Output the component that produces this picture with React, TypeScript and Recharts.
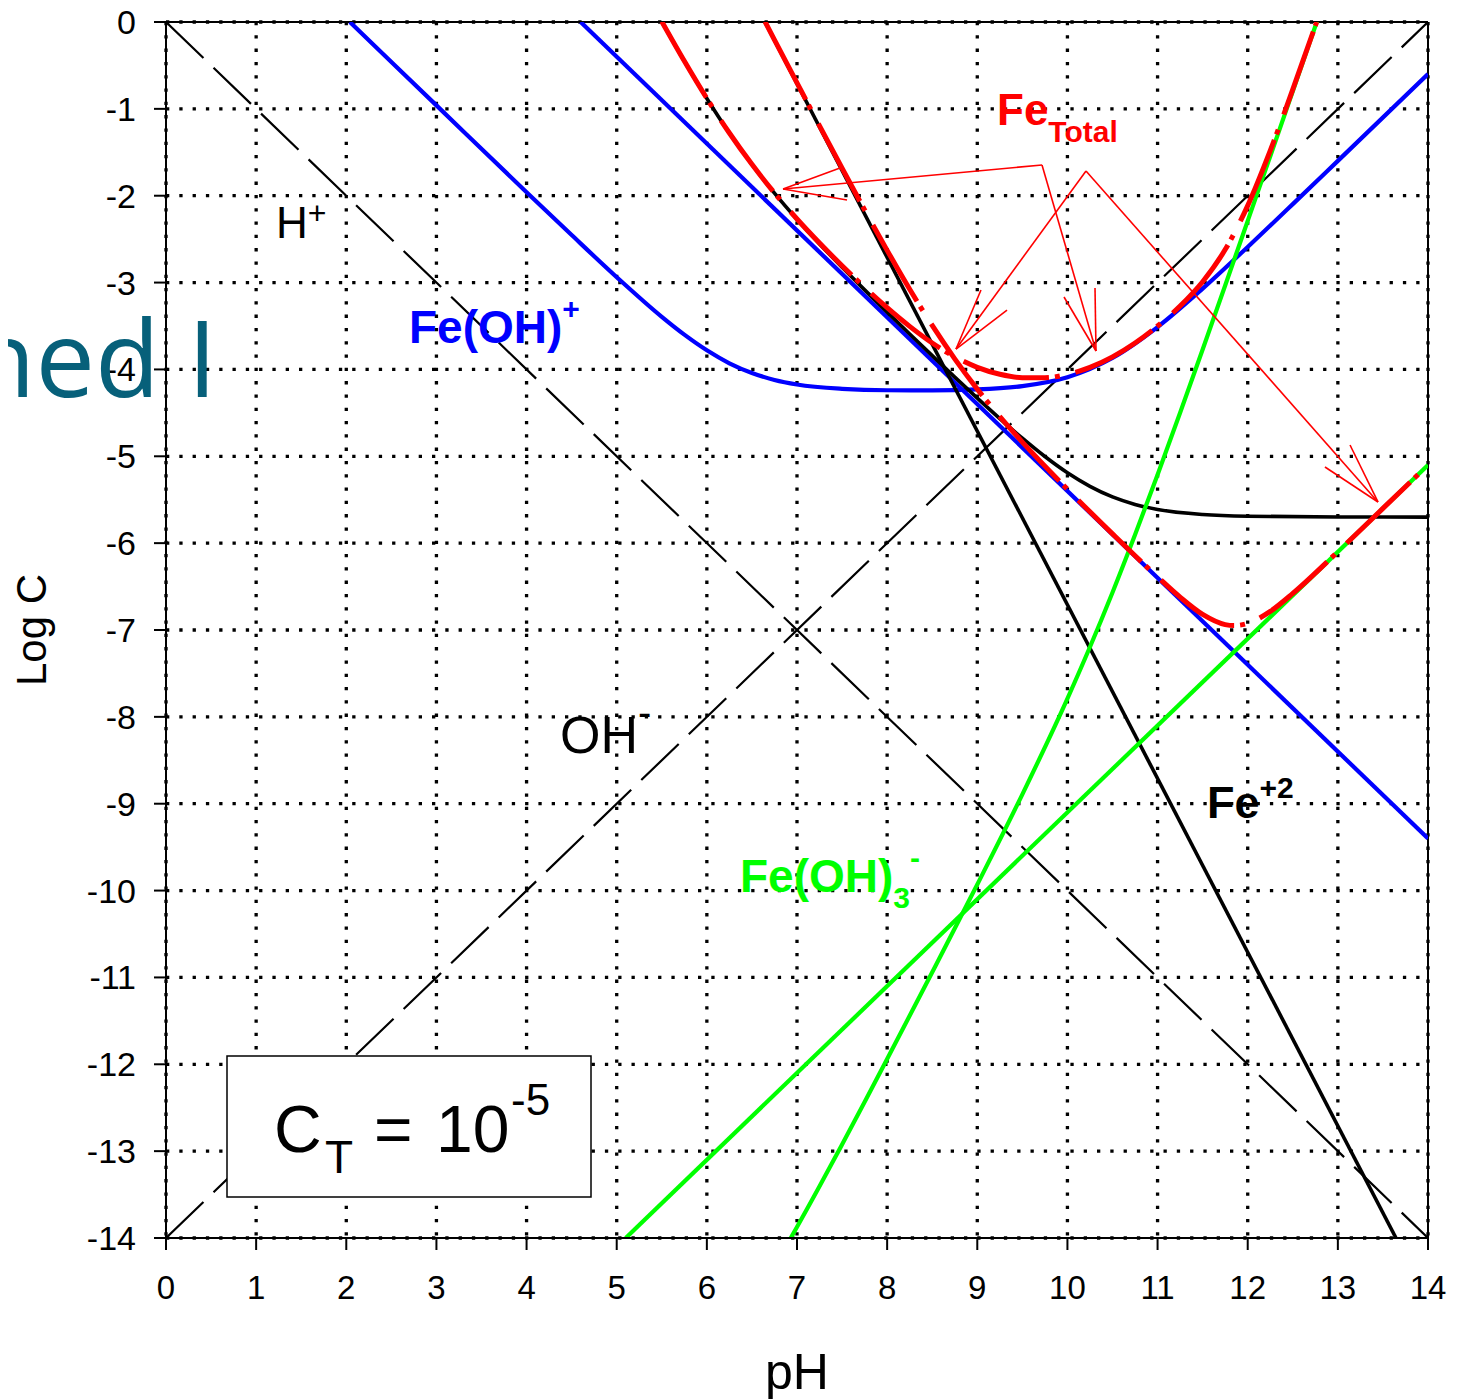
import React from 'react';
import { LineChart, Line, XAxis, YAxis, CartesianGrid, ReferenceLine } from 'recharts';

// Axis ticks
const pHTicks = [0, 1, 2, 3, 4, 5, 6, 7, 8, 9, 10, 11, 12, 13, 14];
const logCTicks = [0, -1, -2, -3, -4, -5, -6, -7, -8, -9, -10, -11, -12, -13, -14];

// H+ and OH- (dashed)
const hPH = [0, 14];
const hLogC = [0, -14];
const ohPH = [0, 14];
const ohLogC = [-14, 0];

// Solid-phase controlled species (straight lines)
const fe2SolidPH = [6.645, 13.645];
const fe2SolidLogC = [0, -14];
const feOHSolidPH = [4.6, 14];
const feOHSolidLogC = [0, -9.4];
const feOH3SolidPH = [5.1, 14];
const feOH3SolidLogC = [-14, -5.1];

// Fe(OH)+ curve (blue, with plateau)
const feOHCurvePH = [2.04, 3, 4, 4.5, 5, 5.5, 5.75, 6, 6.25, 6.5, 6.75, 7, 7.5, 8, 8.5, 9, 9.5, 10, 10.5, 11, 11.5, 12, 12.5, 13, 14];
const feOHCurveLogC = [0, -0.96, -1.96, -2.453, -2.938, -3.395, -3.6, -3.78, -3.929, -4.041, -4.121, -4.173, -4.223, -4.24, -4.241, -4.23, -4.192, -4.09, -3.868, -3.512, -3.07, -2.59, -2.097, -1.599, -0.6];

// Fe+2 curve (black, flattening)
const fe2CurvePH = [5.5, 5.75, 6, 6.25, 6.5, 6.75, 7, 7.25, 7.5, 7.75, 8, 8.25, 8.5, 8.75, 9, 9.25, 9.5, 9.75, 10, 10.25, 10.5, 10.75, 11, 11.5, 12, 13, 14];
const fe2CurveLogC = [0.005, -0.45, -0.88, -1.279, -1.641, -1.971, -2.273, -2.555, -2.823, -3.084, -3.34, -3.592, -3.841, -4.088, -4.33, -4.566, -4.792, -5.003, -5.19, -5.346, -5.468, -5.554, -5.612, -5.67, -5.69, -5.699, -5.7];

// Fe(OH)3- curve (green, steep)
const feOH3CurvePH = [6.93, 7, 7.25, 7.5, 7.75, 8, 8.5, 9, 9.5, 10, 10.25, 10.5, 10.75, 11, 11.25, 11.5, 11.75, 12, 12.25, 12.5, 12.77];
const feOH3CurveLogC = [-14, -13.873, -13.405, -12.923, -12.434, -11.94, -10.941, -9.93, -8.892, -7.79, -7.196, -6.568, -5.904, -5.212, -4.499, -3.77, -3.033, -2.29, -1.545, -0.797, 0.012];

// Fe total curves (red dashed)
const feTotalAPH = [5.5, 5.75, 6, 6.25, 6.5, 6.75, 7, 7.25, 7.5, 7.75, 8, 8.25, 8.5, 8.75, 9, 9.25, 9.5, 9.75, 10, 10.25, 10.5, 10.75, 11, 11.25, 11.5, 11.75, 12, 12.25, 12.5, 12.7, 12.765];
const feTotalALogC = [0.005, -0.45, -0.88, -1.278, -1.639, -1.968, -2.268, -2.545, -2.806, -3.055, -3.289, -3.504, -3.696, -3.855, -3.976, -4.056, -4.095, -4.095, -4.057, -3.977, -3.856, -3.696, -3.5, -3.27, -2.99, -2.62, -2.114, -1.481, -0.776, -0.19, 0];
const feTotalBPH = [6.645, 6.75, 7, 7.25, 7.5, 7.75, 8, 8.25, 8.5, 8.75, 9, 9.25, 9.5, 10, 10.5, 11, 11.25, 11.5, 11.75, 11.85, 12, 12.25, 12.5, 13, 13.5, 14];
const feTotalBLogC = [0.004, -0.205, -0.701, -1.195, -1.683, -2.163, -2.629, -3.076, -3.494, -3.878, -4.227, -4.544, -4.837, -5.379, -5.893, -6.389, -6.622, -6.821, -6.938, -6.949, -6.924, -6.786, -6.579, -6.098, -5.6, -5.1];

// Annotation arrows (pH, logC pairs)
const arrowSegments: [number, number, number, number][] = [
  [9.718, -1.646, 6.845, -1.923],
  [6.845, -1.923, 7.477, -1.681],
  [6.845, -1.923, 7.555, -2.049],
  [9.718, -1.646, 10.317, -3.788],
  [10.317, -3.788, 9.962, -3.166],
  [10.317, -3.788, 10.306, -3.062],
  [10.206, -1.715, 8.764, -3.765],
  [8.764, -3.765, 9.041, -3.086],
  [8.764, -3.765, 9.33, -3.316],
  [10.206, -1.715, 13.445, -5.526],
  [13.445, -5.526, 12.857, -5.123],
  [13.445, -5.526, 13.135, -4.87],
];

const pts = (xs: number[], ys: number[]) => xs.map((x, i) => ({ x, y: ys[i] }));

const FONT = "'Liberation Sans', Arial, Helvetica, sans-serif";
const RED = '#ff0000';
const BLUE = '#0000ff';
const GREEN = '#00ff00';

export default function App() {
  const lineCommon = { dot: false, activeDot: false, isAnimationActive: false, dataKey: 'y' } as any;
  return (
    <div style={{ position: 'relative', width: 1450, height: 1392 }}>
      <LineChart width={1450} height={1392} margin={{ top: 14, right: 30, bottom: 0, left: 0 }}>
        <CartesianGrid stroke="#000" strokeWidth={3.3} strokeDasharray="3.3 10" />
        <XAxis
          type="number"
          dataKey="x"
          domain={[0, 14]}
          ticks={pHTicks}
          interval={0}
          allowDataOverflow
          height={162}
          tickSize={12}
          tickMargin={26}
          axisLine={{ stroke: '#000', strokeWidth: 2 }}
          tickLine={{ stroke: '#000', strokeWidth: 2 }}
          tick={{ fill: '#000', fontSize: 33, fontFamily: FONT }}
        />
        <YAxis
          type="number"
          domain={[-14, 0]}
          ticks={logCTicks}
          interval={0}
          allowDataOverflow
          width={158}
          tickSize={12}
          tickMargin={18}
          axisLine={{ stroke: '#000', strokeWidth: 2 }}
          tickLine={{ stroke: '#000', strokeWidth: 2 }}
          tick={{ fill: '#000', fontSize: 34, fontFamily: FONT }}
        />
        <ReferenceLine y={0} stroke="#000" strokeWidth={2} />
        <ReferenceLine x={14} stroke="#000" strokeWidth={2} />

        <Line {...lineCommon} data={pts(hPH, hLogC)} type="linear" stroke="#000" strokeWidth={2.2} strokeDasharray="52 14" />
        <Line {...lineCommon} data={pts(ohPH, ohLogC)} type="linear" stroke="#000" strokeWidth={2.2} strokeDasharray="52 14" />

        <Line {...lineCommon} data={pts(feOHCurvePH, feOHCurveLogC)} type="monotone" stroke={BLUE} strokeWidth={4.2} />
        <Line {...lineCommon} data={pts(feOHSolidPH, feOHSolidLogC)} type="linear" stroke={BLUE} strokeWidth={4.2} />
        <Line {...lineCommon} data={pts(fe2CurvePH, fe2CurveLogC)} type="monotone" stroke="#000" strokeWidth={3.6} />
        <Line {...lineCommon} data={pts(fe2SolidPH, fe2SolidLogC)} type="linear" stroke="#000" strokeWidth={3.6} />
        <Line {...lineCommon} data={pts(feOH3CurvePH, feOH3CurveLogC)} type="monotone" stroke={GREEN} strokeWidth={4.2} />
        <Line {...lineCommon} data={pts(feOH3SolidPH, feOH3SolidLogC)} type="linear" stroke={GREEN} strokeWidth={4.2} />

        <Line {...lineCommon} data={pts(feTotalAPH, feTotalALogC)} type="monotone" stroke={RED} strokeWidth={5} strokeDasharray="88 6 5 16" />
        <Line {...lineCommon} data={pts(feTotalBPH, feTotalBLogC)} type="monotone" stroke={RED} strokeWidth={5} strokeDasharray="88 6 5 16" />

        {arrowSegments.map((s, i) => (
          <ReferenceLine
            key={i}
            segment={[{ x: s[0], y: s[1] }, { x: s[2], y: s[3] }]}
            stroke={RED}
            strokeWidth={1.6}
          />
        ))}
      </LineChart>

      <svg
        width={1450}
        height={1392}
        style={{ position: 'absolute', left: 0, top: 0, overflow: 'visible', pointerEvents: 'none' }}
      >
        <text x={209} y={389} textAnchor="end" fontFamily="'Open Sans', sans-serif" fontSize={106} fontWeight={500} fill="#07607a">ned I</text>

        <text x={38} y={622} transform="rotate(-90 38 622)" textAnchor="middle" fontFamily={FONT} fontSize={42} fill="#000">Log C</text>
        <text x={789} y={1381} textAnchor="middle" fontFamily={FONT} fontSize={50} fill="#000">pH</text>

        <text x={268} y={230} fontFamily={FONT} fontSize={44} fill="#000">
          H<tspan fontSize={32} dy={-14}>+</tspan>
        </text>
        <text x={401} y={335} fontFamily={FONT} fontSize={46} fontWeight="bold" fill={BLUE}>
          Fe(OH)<tspan fontSize={30} dy={-24}>+</tspan>
        </text>
        <text x={552} y={745} fontFamily={FONT} fontSize={52} fill="#000">
          OH<tspan fontSize={40} dy={-27}>-</tspan>
        </text>
        <text x={1199} y={810} fontFamily={FONT} fontSize={45} fontWeight="bold" fill="#000">
          Fe<tspan fontSize={30} dy={-20}>+2</tspan>
        </text>
        <text x={732} y={884} fontFamily={FONT} fontSize={46} fontWeight="bold" fill={GREEN}>
          Fe(OH)<tspan fontSize={30} dy={16}>3</tspan><tspan fontSize={30} dy={-40}>-</tspan>
        </text>
        <text x={989} y={117} fontFamily={FONT} fontSize={44} fontWeight="bold" fill={RED}>
          Fe<tspan fontSize={30} dy={17}>Total</tspan>
        </text>

        <rect x={219} y={1048} width={364} height={141} fill="#fff" stroke="#000" strokeWidth={1.5} />
        <text x={266} y={1144} fontFamily={FONT} fontSize={66} fill="#000">C</text>
        <text x={317} y={1165} fontFamily={FONT} fontSize={46} fill="#000">T</text>
        <text x={366} y={1144} fontFamily={FONT} fontSize={66} fill="#000">=</text>
        <text x={428} y={1144} fontFamily={FONT} fontSize={66} fill="#000">10</text>
        <text x={503} y={1107} fontFamily={FONT} fontSize={44} fill="#000">-5</text>
      </svg>
    </div>
  );
}
